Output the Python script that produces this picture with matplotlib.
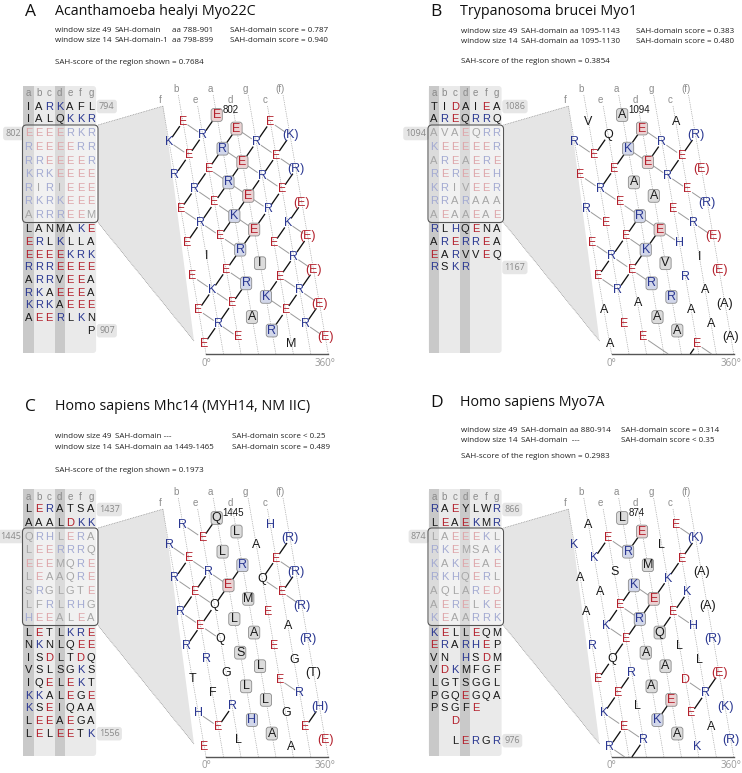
import matplotlib
matplotlib.use('Agg')
import matplotlib.pyplot as plt
from matplotlib.patches import FancyBboxPatch, Polygon, Rectangle

# ---------------- data ----------------
panel_letters = ['A', 'B', 'C', 'D']
titles = ['Acanthamoeba healyi Myo22C', 'Trypanosoma brucei Myo1',
          'Homo sapiens Mhc14 (MYH14, NM IIC)', 'Homo sapiens Myo7A']

info_49 = [['window size 49', 'SAH-domain', 'aa 788-901', 'SAH-domain score = 0.787'],
           ['window size 49', 'SAH-domain aa 1095-1143', 'SAH-domain score = 0.383'],
           ['window size 49', 'SAH-domain ---', 'SAH-domain score < 0.25'],
           ['window size 49', 'SAH-domain aa 880-914', 'SAH-domain score = 0.314']]
info_14 = [['window size 14', 'SAH-domain-1', 'aa 798-899', 'SAH-domain score = 0.940'],
           ['window size 14', 'SAH-domain aa 1095-1130', 'SAH-domain score = 0.480'],
           ['window size 14', 'SAH-domain aa 1449-1465', 'SAH-domain score = 0.489'],
           ['window size 14', 'SAH-domain  ---', 'SAH-domain score < 0.35']]
region_scores = ['0.7684', '0.3854', '0.1973', '0.2983']

# heptad rows (a..g) shown left of each net: before the window, the window, after it
rows_before = [['IARKAFL', 'IALQKKR'],
               ['TIDAIEA', 'AREQRRQ'],
               ['LERATSA', 'AAALDKK'],
               ['RAEYLWR', 'LEAEKMR']]
rows_window = [['EEEERKR', 'REEEERR', 'RREEEER', 'KRKEEEE', 'RIRIEEE', 'RKRKEEE', 'ARRREEM'],
               ['AVAEQRR', 'KEEEEER', 'AREAERE', 'REREEEH', 'KRIVEER', 'RRARAAA', 'AEAAEAE'],
               ['QRHLERA', 'LEERRRQ', 'EEEMQRE', 'LEAAQRE', 'SRGLGTE', 'LFRLRHG', 'HEEALEA'],
               ['LAEEEKL', 'RKEMSAK', 'KAKEEAE', 'RKHQERL', 'AQLARED', 'AERELKE', 'KEAARRK']]
rows_after = [['LANMAKE', 'ERLKLLA', 'EEEEKRK', 'RRREEEE', 'ARRVEEA', 'RKAEEEA', 'KRKAEEE',
               'AEERLKN', '      P'],
              ['RLHQENA', 'ARERREA', 'EARVVEQ', 'RSKR'],
              ['LETLKRE', 'NKNLQEE', 'ISDLTDQ', 'VSLSGKS', 'IQELEKT', 'KKALEGE', 'KSEIQAA',
               'LEEAEGA', 'LELEETK'],
              ['KELLEQM', 'ERARHEP', 'VN HSDM', 'VDKMFGF', 'LGTSGGL', 'PGQEGQA', 'PSGFE',
               '  D', '', '  LERGR']]
num_first = ['794', '1086', '1437', '866']
num_window = ['802', '1094', '1445', '874']
num_last = ['907', '1167', '1556', '976']

heptad = 'abcdefg'
net_columns = ['f', 'b', 'e', 'a', 'd', 'g', 'c', '(f)']
acidic = 'ED'
basic = 'KRH'

# ---------------- layout ----------------
offsets = [(0, 0), (405.5, 0), (0, 403), (405.5, 403)]
title_y = [11.5, 11.5, 407, 403]
info_y = [(30, 40.7, 62.7), (31.5, 41.7, 61.7), (436, 447.3, 470), (430.5, 441, 457)]
# preferred tab stops of the two info lines (panel-local x)
info_tabs = [[55, 100, 166.7, 230], [55.5, 100, 231], [55, 100, 231.7], [55.5, 100, 215.5]]

RED, BLUE, BLACK = '#b3202c', '#2a3791', '#1a1a1a'
RED_F, BLUE_F, BLACK_F = '#dea6aa', '#a3aad2', '#a6a6a6'
LETTER_FONT = 'Liberation Sans'
TEXT_FONT = 'Open Sans'
INFO_SIZE = 5.8

# helical net geometry (pixels per column / per residue)
NX0, NY0 = 164.8, 117.7
COL_DX, COL_DY = 17.3, -0.9
RES_DX, RES_DY = 0.84, 4.81
AXIS_Y = 354

fig = plt.figure(figsize=(7.42, 7.73), dpi=100)
ax = fig.add_axes([0, 0, 1, 1])
ax.set_xlim(0, 742)
ax.set_ylim(773, 0)
ax.axis('off')
renderer = fig.canvas.get_renderer()


def res_color(r, faded=False):
    if r in acidic:
        return RED_F if faded else RED
    if r in basic:
        return BLUE_F if faded else BLUE
    return BLACK_F if faded else BLACK


def net_xy(i, col):
    return (NX0 + COL_DX * col + RES_DX * i, NY0 + COL_DY * col + RES_DY * i)


def col_line_x(col, y):
    x0, y0 = net_xy(0, col)
    return x0 + (y - y0) * RES_DX / RES_DY


def paired(a, b):
    return ((a in acidic and (b in basic or b == 'Q')) or
            (b in acidic and (a in basic or a == 'Q')))


def draw_info(k, ox):
    lines = [info_49[k], info_14[k]]
    ys = info_y[k][:2]
    tabs = info_tabs[k]
    x = ox + tabs[0]
    for s in range(len(tabs)):
        ends = []
        for segs, yy in zip(lines, ys):
            t = ax.text(x, yy, segs[s], fontsize=INFO_SIZE, family=TEXT_FONT, ha='left',
                        va='center', color='#222222')
            ends.append(t.get_window_extent(renderer=renderer).x1)
        if s + 1 < len(tabs):
            x = max(ox + tabs[s + 1], max(ends) + 3.5)
    ax.text(ox + tabs[0], info_y[k][2], 'SAH-score of the region shown = ' + region_scores[k],
            fontsize=INFO_SIZE, family=TEXT_FONT, ha='left', va='center', color='#222222')


def draw_block(k, ox, oy):
    x0, cw = 23.3, 10.4
    top, bot = 86, 353
    ax.add_patch(FancyBboxPatch((ox + x0, oy + top), 7 * cw, bot - top,
                                boxstyle='round,pad=0,rounding_size=3',
                                fc='#eaeaea', ec='none', zorder=1))
    for c in (0, 3):
        ax.add_patch(Rectangle((ox + x0 + c * cw, oy + top), cw, bot - top,
                               fc='#c9c9c9', ec='none', zorder=1))
    cx = [ox + x0 + cw * (c + 0.5) for c in range(7)]
    for c, h in enumerate(heptad):
        ax.text(cx[c], oy + 93.5, h, color='#8a8a8a', fontsize=7,
                family=LETTER_FONT, ha='center', va='center', zorder=5)

    def put_row(row, y, faded):
        for c, r in enumerate(row):
            if r != ' ':
                ax.text(cx[c], y, r, color=res_color(r, faded), fontsize=8,
                        family=LETTER_FONT, ha='center', va='center', zorder=5)

    for n, row in enumerate(rows_before[k]):
        put_row(row, oy + 106.5 + 13 * n, False)
    for n, row in enumerate(rows_window[k]):
        put_row(row, oy + 133.5 + 13.6 * n, True)
    y = oy + 229.5
    last_y = y
    for row in rows_after[k]:
        if row == '':
            y += 12.65 * 0.55
            continue
        put_row(row, y, False)
        last_y = y
        y += 12.65
    # window outline with a pale veil over the bands
    ax.add_patch(FancyBboxPatch((ox + 22.5, oy + 125), 75.5, 97.5,
                                boxstyle='round,pad=0,rounding_size=4',
                                fc='white', alpha=0.35, ec='none', zorder=1.5))
    ax.add_patch(FancyBboxPatch((ox + 22.5, oy + 125), 75.5, 97.5,
                                boxstyle='round,pad=0,rounding_size=4',
                                fc='none', ec='#555555', lw=0.8, zorder=6))
    lab = dict(fontsize=6.5, family=TEXT_FONT, color='#8a8a8a', va='center', zorder=5,
               bbox=dict(boxstyle='round,pad=0.25,rounding_size=0.3', fc='#e6e6e6', ec='none'))
    ax.text(ox + 99, oy + 106.5, num_first[k], ha='left', **lab)
    ax.text(ox + 21, oy + 133.5, num_window[k], ha='right', **lab)
    ax.text(ox + 99, last_y, num_last[k], ha='left', **lab)

    # projection wedge towards the net
    ax.add_patch(Polygon([(ox + 98, oy + 125), (ox + 163.5, oy + 106),
                          (ox + 194, oy + 341), (ox + 98, oy + 222.5)],
                         closed=True, fc='#e5e5e5', ec='none', zorder=0.5))
    for (xa, ya), (xb, yb) in (((98, 125), (163.5, 106)), ((98, 222.5), (194, 341))):
        ax.plot([ox + xa, ox + xb], [oy + ya, oy + yb], color='#8a8a8a', lw=0.5,
                ls=(0, (1.2, 1.2)), zorder=0.6)


def draw_net(k, ox, oy):
    seq = ''.join(rows_window[k])
    ext = seq + ''.join(rows_after[k]).replace(' ', '')
    for c, lab in enumerate(net_columns):
        ly = 89 if c % 2 else 100
        xt, xb = col_line_x(c, ly + 6), col_line_x(c, AXIS_Y)
        ax.plot([ox + xt, ox + xb], [oy + ly + 6, oy + AXIS_Y], color='#9a9a9a', lw=0.5,
                ls=(0, (1.2, 1.4)), zorder=2)
        ax.text(ox + col_line_x(c, ly) - 1.5, oy + ly, lab, color='#8c8c8c', fontsize=7,
                family=LETTER_FONT, ha='center', va='center', zorder=5)
    x_left, x_right = col_line_x(0, AXIS_Y), col_line_x(7, AXIS_Y)
    ax.plot([ox + x_left, ox + x_right], [oy + AXIS_Y, oy + AXIS_Y], color='#555555',
            lw=1.0, zorder=3)
    ax.text(ox + x_left, oy + AXIS_Y + 9, '0°', color='#999999', fontsize=7,
            family=TEXT_FONT, ha='center', va='center')
    ax.text(ox + x_right - 3, oy + AXIS_Y + 9, '360°', color='#999999', fontsize=7,
            family=TEXT_FONT, ha='center', va='center')

    cols = [net_columns.index(heptad[i % 7]) for i in range(len(ext))]

    # salt-bridge connections (i,i+4 black, i,i+3 grey)
    for i in range(len(seq)):
        for d, colr, lw in ((3, '#9a9a9a', 0.7), (4, '#111111', 0.95)):
            j = i + d
            if j >= len(ext) or not paired(ext[i], ext[j]):
                continue
            ci = cols[i]
            cj = ci + 1 if d == 3 else ci - 1
            if cj < 0:
                ci, cj = 7, 6
            x1, y1 = net_xy(i, ci)
            x2, y2 = net_xy(j, cj)
            dx, dy = x2 - x1, y2 - y1
            s = 5.5 / (dx * dx + dy * dy) ** 0.5
            xa, ya = x1 + dx * s, y1 + dy * s
            if j < len(seq):
                xb, yb = x2 - dx * s, y2 - dy * s
            else:
                t = (AXIS_Y - y1) / dy
                xb, yb = x1 + dx * t, AXIS_Y
            ax.plot([ox + xa, ox + xb], [oy + ya, oy + yb], color=colr, lw=lw,
                    solid_capstyle='butt', zorder=3)

    for i, r in enumerate(seq):
        c = cols[i]
        x, y = net_xy(i, c)
        if heptad[i % 7] in 'ad':
            fc = '#ebd2d3' if r in acidic else ('#d2d7ea' if r in basic else '#dcdcdc')
            ax.add_patch(FancyBboxPatch((ox + x - 5.6, oy + y - 6.4), 11.2, 12.8,
                                        boxstyle='round,pad=0,rounding_size=2.6',
                                        fc=fc, ec='#8c8c8c', lw=0.6, zorder=4))
        ax.text(ox + x, oy + y, r, color=res_color(r), fontsize=9, family=LETTER_FONT,
                ha='center', va='center', zorder=5)
        if c == 0:
            x7, y7 = net_xy(i, 7)
            ax.text(ox + x7, oy + y7, '(' + r + ')', color=res_color(r), fontsize=9,
                    family=LETTER_FONT, ha='center', va='center', zorder=5)
        if i == 0:
            ax.text(ox + x + 6, oy + y - 5, num_window[k], color=BLACK, fontsize=7,
                    family=LETTER_FONT, ha='left', va='center', zorder=5)


for k in range(4):
    ox, oy = offsets[k]
    ax.text(ox + 25, title_y[k], panel_letters[k], fontsize=12.5, family=TEXT_FONT,
            ha='left', va='center', color='#111111')
    ax.text(ox + 55, title_y[k], titles[k], fontsize=10.3, family=TEXT_FONT,
            ha='left', va='center', color='#111111')
    draw_info(k, ox)
    draw_block(k, ox, oy)
    draw_net(k, ox, oy)

fig.savefig('out.png', dpi=100)
